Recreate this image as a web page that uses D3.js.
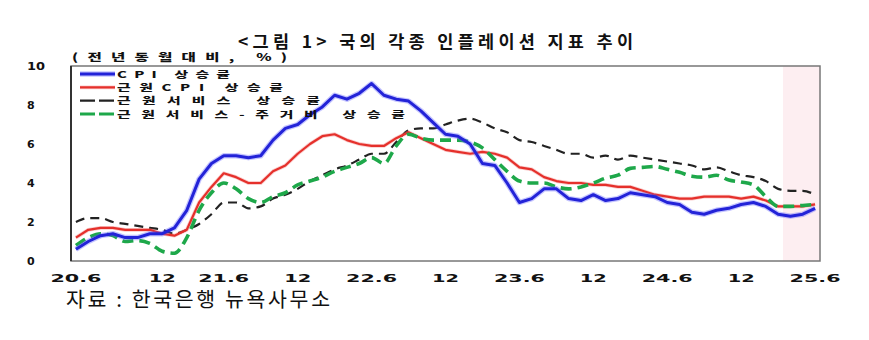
<!DOCTYPE html>
<html><head><meta charset="utf-8">
<script src="https://cdn.jsdelivr.net/npm/d3@7"></script>
<style>
html,body{margin:0;padding:0;background:#fff;}
svg{display:block;}
</style></head>
<body>
<svg id="chart" width="869" height="340"></svg>
<script>
// ---------------- DATA ----------------
const titleText = "<그림 1> 국의 각종 인플레이션 지표 추이";
const unitText = "(전년동월대비, %)";
const sourceText = "자료 : 한국은행 뉴욕사무소";
const seriesNames = ["CPI 상승률", "근원CPI 상승률", "근원서비스 상승률", "근원서비스-주거비 상승률"];

// monthly, 2020.6 ~ 2025.6
const months = d3.timeMonth.range(new Date(2020, 5, 1), new Date(2025, 6, 1)).map(d3.timeFormat("%y.%m"));

const cpi = [0.6,1.0,1.3,1.4,1.2,1.2,1.4,
  1.4,1.7,2.6,4.2,5.0,5.4,5.4,5.3,5.4,6.2,6.8,7.0,
  7.5,7.9,8.5,8.3,8.6,9.1,8.5,8.3,8.2,7.7,7.1,6.5,
  6.4,6.0,5.0,4.9,4.0,3.0,3.2,3.7,3.7,3.2,3.1,3.4,
  3.1,3.2,3.5,3.4,3.3,3.0,2.9,2.5,2.4,2.6,2.7,2.9,
  3.0,2.8,2.4,2.3,2.4,2.7];
const coreCpi = [1.2,1.6,1.7,1.7,1.6,1.6,1.6,
  1.4,1.3,1.6,3.0,3.8,4.5,4.3,4.0,4.0,4.6,4.9,5.5,
  6.0,6.4,6.5,6.2,6.0,5.9,5.9,6.3,6.6,6.3,6.0,5.7,
  5.6,5.5,5.6,5.5,5.3,4.8,4.7,4.3,4.1,4.0,4.0,3.9,
  3.9,3.8,3.8,3.6,3.4,3.3,3.2,3.2,3.3,3.3,3.3,3.2,
  3.3,3.1,2.8,2.8,2.8,2.9];
const coreServices = [2.0,2.2,2.2,2.0,1.9,1.8,1.7,
  1.6,1.4,1.6,1.9,2.4,3.0,3.0,2.7,2.8,3.2,3.4,3.7,
  4.1,4.4,4.7,4.9,5.2,5.5,5.5,6.1,6.7,6.8,6.8,7.0,
  7.2,7.3,7.1,6.8,6.6,6.2,6.1,5.9,5.7,5.5,5.5,5.3,
  5.4,5.2,5.4,5.3,5.2,5.1,5.0,4.9,4.7,4.8,4.6,4.4,
  4.3,4.1,3.7,3.6,3.6,3.4];
const superCore = [0.8,1.2,1.4,1.3,1.0,1.05,0.9,
  0.5,0.4,1.2,2.6,3.5,4.0,3.7,3.2,3.0,3.3,3.5,3.9,
  4.1,4.3,4.6,4.8,5.0,5.3,5.0,5.9,6.5,6.3,6.2,6.2,
  6.2,6.1,5.8,5.2,4.6,4.1,4.0,4.0,3.8,3.7,3.8,4.0,
  4.25,4.4,4.75,4.8,4.85,4.7,4.55,4.35,4.3,4.4,4.15,4.05,
  3.9,3.3,2.8,2.8,2.85,2.9];

const xTickIdx = [0, 7, 12, 18, 24, 30, 36, 42, 48, 54, 60];
const xTickLabels = ["20.6","12","21.6","12","22.6","12","23.6","12","24.6","12","25.6"];
const yTicks = [0, 2, 4, 6, 8, 10];
const shadeStart = 57.4; // shaded recent period (month index)

// ---------------- LAYOUT ----------------
const svg = d3.select("#chart");
const plot = {left: 71, right: 820, top: 66, bottom: 261};
const x = d3.scaleLinear().domain([-0.4, 60.4]).range([plot.left, plot.right]);
const y = d3.scaleLinear().domain([0, 10]).range([plot.bottom, plot.top]);

// shaded band
svg.append("rect")
  .attr("x", x(shadeStart)).attr("y", y(10))
  .attr("width", x.range()[1] - x(shadeStart)).attr("height", y(0) - y(10))
  .attr("fill", "#fdeef1");

// title
svg.append("text")
  .attr("x", 238).attr("y", 40)
  .attr("dominant-baseline", "central")
  .attr("font-family", "'Noto Sans CJK KR'").attr("font-weight", 700)
  .attr("font-size", 17.5).attr("fill", "#111")
  .attr("textLength", 395).attr("lengthAdjust", "spacing")
  .text(titleText);

function stretchedText(g, tx, ty, str, width, opts) {
  const sx = opts.sx || 1.3, sy = opts.sy || 1;
  return g.append("text")
    .attr("transform", `translate(${tx},${ty}) scale(${sx},${sy})`)
    .attr("dominant-baseline", "central")
    .attr("font-family", opts.family).attr("font-weight", opts.weight || 700)
    .attr("font-size", opts.size).attr("fill", opts.fill || "#111")
    .attr("textLength", width / sx).attr("lengthAdjust", "spacing")
    .text(str);
}
stretchedText(svg, 72, 57, unitText, 215, {family: "'Noto Sans CJK KR'", size: 12, sx: 1.3, sy: 0.85, weight: 900});

// y tick labels
svg.append("g").selectAll("text").data(yTicks).join("text")
  .attr("x", 27).attr("y", d => y(d))
  .attr("dominant-baseline", "central")
  .attr("font-family", "'DejaVu Sans'").attr("font-weight", 700)
  .attr("font-size", 11).attr("fill", "#111")
  .each(function(d){ if (String(d).length > 1) d3.select(this).attr("textLength", 18).attr("lengthAdjust", "spacingAndGlyphs"); })
  .text(d => d);

// x tick labels
svg.append("g").selectAll("text").data(xTickIdx).join("text")
  .attr("x", d => x(d)).attr("y", 278)
  .attr("text-anchor", "middle").attr("dominant-baseline", "central")
  .attr("font-family", "'DejaVu Sans'").attr("font-weight", 700)
  .attr("font-size", 10).attr("fill", "#111")
  .attr("textLength", (d, i) => xTickLabels[i].length > 2 ? 51 : 27)
  .attr("lengthAdjust", "spacingAndGlyphs")
  .text((d, i) => xTickLabels[i]);

// source
svg.append("text")
  .attr("x", 66).attr("y", 298)
  .attr("dominant-baseline", "central")
  .attr("font-family", "'Noto Sans CJK KR'").attr("font-weight", 400)
  .attr("font-size", 20.5).attr("fill", "#111")
  .attr("textLength", 264).attr("lengthAdjust", "spacing")
  .text(sourceText);

// ---------------- LINES ----------------
const styles = [
  {data: cpi, color: "#2323d8", width: 3, halo: "rgba(90,90,255,0.35)", haloW: 5.5, dash: null, curve: d3.curveLinear},
  {data: coreCpi, color: "#e5302b", width: 2.2, halo: "rgba(240,110,110,0.35)", haloW: 3.8, dash: null, curve: d3.curveLinear},
  {data: coreServices, color: "#222", width: 2.2, halo: null, dash: "9,6", curve: d3.curveMonotoneX},
  {data: superCore, color: "#1ea84a", width: 3.6, halo: null, dash: "11,6", curve: d3.curveMonotoneX}
];
const drawOrder = [2, 1, 3, 0];
const gLines = svg.append("g");
drawOrder.forEach(k => {
  const s = styles[k];
  const line = d3.line().x((d, i) => x(i)).y(d => y(d)).curve(s.curve);
  if (s.halo) {
    gLines.append("path").attr("d", line(s.data)).attr("fill", "none")
      .attr("stroke", s.halo).attr("stroke-width", s.haloW).attr("stroke-linejoin", "round");
  }
  gLines.append("path").attr("d", line(s.data)).attr("fill", "none")
    .attr("stroke", s.color).attr("stroke-width", s.width)
    .attr("stroke-linejoin", "round")
    .attr("stroke-dasharray", s.dash);
});

// frame
svg.append("rect")
  .attr("x", plot.left).attr("y", plot.top)
  .attr("width", plot.right - plot.left).attr("height", plot.bottom - plot.top)
  .attr("fill", "none").attr("stroke", "#777").attr("stroke-width", 1.5);
svg.append("line")
  .attr("x1", plot.left).attr("x2", plot.left).attr("y1", plot.top).attr("y2", plot.bottom)
  .attr("stroke", "#333").attr("stroke-width", 2);

// ---------------- LEGEND ----------------
const legendWidths = [113, 166, 203, 288];
const legendRowY = d3.scalePoint().domain(d3.range(4)).range([74, 114]);
const lg = svg.append("g");
seriesNames.forEach((name, k) => {
  const s = styles[k];
  const yy = legendRowY(k);
  if (s.halo) lg.append("line").attr("x1", 80).attr("x2", 115).attr("y1", yy).attr("y2", yy)
      .attr("stroke", s.halo).attr("stroke-width", s.haloW);
  lg.append("line").attr("x1", 80).attr("x2", 115).attr("y1", yy).attr("y2", yy)
    .attr("stroke", s.color).attr("stroke-width", Math.min(s.width, 3))
    .attr("stroke-dasharray", s.dash ? "15,4" : null);
  stretchedText(lg, 117, yy, name, legendWidths[k], {family: "'Noto Sans CJK KR'", size: 11, sx: 1.35, sy: 0.8, weight: 900});
});
</script>
</body></html>
